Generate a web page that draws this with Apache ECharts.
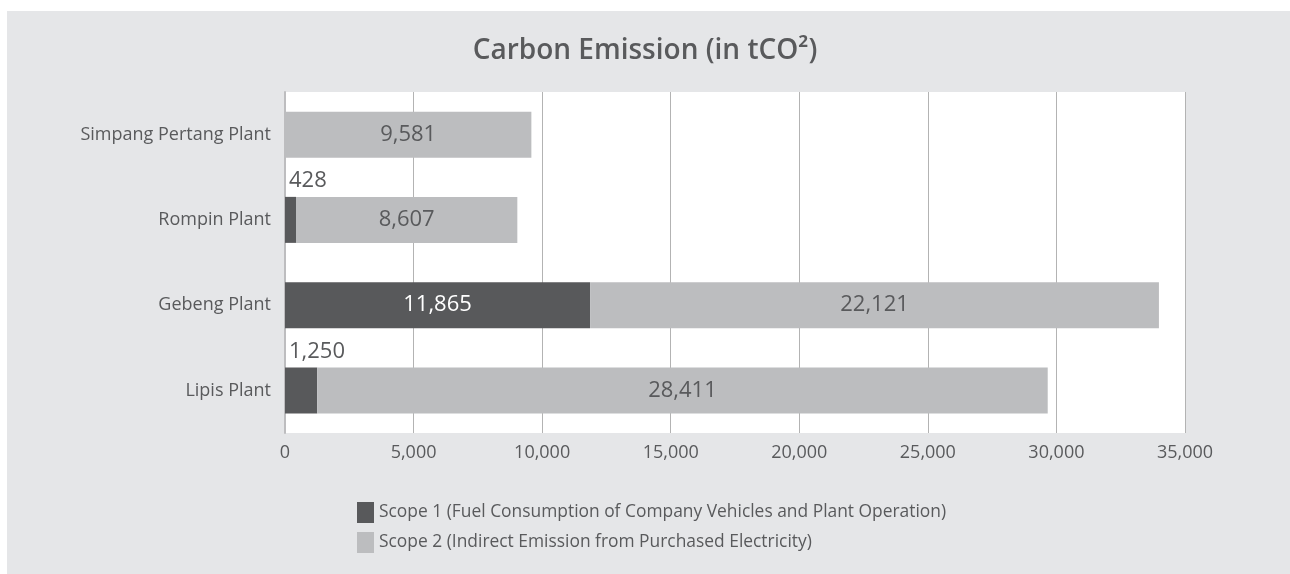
<!DOCTYPE html>
<html>
<head>
<meta charset="utf-8">
<script src="https://cdn.jsdelivr.net/npm/echarts@6/dist/echarts.min.js"></script>
<style>
  html, body { margin: 0; padding: 0; background: #ffffff; }
  #panel { position: absolute; left: 7px; top: 11px; width: 1283px; height: 563px; background: #e5e6e8; }
  #carbonChart { position: absolute; left: 0; top: 0; width: 1290px; height: 574px; }
</style>
</head>
<body>
<div id="panel"></div>
<div id="carbonChart"></div>
<script>
// categories, bottom to top as drawn
const plants = ['Lipis Plant', 'Gebeng Plant', 'Rompin Plant', 'Simpang Pertang Plant'];
const scope1 = [1250, 11865, 428, null];
const scope2 = [28411, 22121, 8607, 9581];
const seriesNames = [
  'Scope 1 (Fuel Consumption of Company Vehicles and Plant Operation)',
  'Scope 2 (Indirect Emission from Purchased Electricity)'
];

const textColor = '#595a5c';
const font = 'Open Sans';
const fmt = v => Number(v).toLocaleString('en-US');

var myChart = echarts.init(document.getElementById('carbonChart'));

// scope 1 labels: inside when the bar is wide, above the bar otherwise
const scope1Data = scope1.map(v => {
  if (v === null) return { value: null };
  if (v > 5000) {
    return { value: v, label: { position: 'inside', color: '#ffffff' } };
  }
  return { value: v, label: { position: [4, -16], align: 'left', verticalAlign: 'middle', color: textColor } };
});

var option = {
  backgroundColor: 'transparent',
  textStyle: { fontFamily: font },
  title: {
    text: 'Carbon Emission (in tCO²)',
    left: 'center',
    top: 32,
    textStyle: { fontFamily: font, fontSize: 28, fontWeight: 600, color: textColor }
  },
  legend: {
    orient: 'vertical',
    left: 352,
    top: 497,
    icon: 'rect',
    itemWidth: 17,
    itemHeight: 21,
    itemGap: 9,
    textStyle: { fontFamily: font, fontSize: 17.4, color: textColor },
    data: seriesNames
  },
  grid: {
    left: 285,
    right: 105,
    top: 92,
    bottom: 141,
    show: true,
    backgroundColor: '#ffffff',
    borderWidth: 0
  },
  xAxis: {
    type: 'value',
    min: 0,
    max: 35000,
    interval: 5000,
    axisLine: { show: false },
    axisTick: { show: false },
    splitLine: { lineStyle: { color: '#b3b3b3', width: 1 } },
    axisLabel: { formatter: fmt, color: textColor, fontSize: 18, margin: 11, fontFamily: font }
  },
  yAxis: {
    type: 'category',
    data: plants,
    axisLine: { show: true, lineStyle: { color: '#bdbdbf', width: 2 } },
    axisTick: { show: false },
    axisLabel: { color: textColor, fontSize: 18, margin: 14, fontFamily: font }
  },
  series: [
    {
      name: seriesNames[0],
      type: 'bar',
      stack: 'total',
      barWidth: 46,
      itemStyle: { color: '#58595b' },
      label: { show: true, fontSize: 22, fontFamily: font, formatter: p => fmt(p.value) },
      data: scope1Data
    },
    {
      name: seriesNames[1],
      type: 'bar',
      stack: 'total',
      barWidth: 46,
      itemStyle: { color: '#bcbdbf' },
      label: { show: true, position: 'inside', color: textColor, fontSize: 22, fontFamily: font, formatter: p => fmt(p.value) },
      data: scope2
    }
  ]
};

option && myChart.setOption(option);
</script>
</body>
</html>
